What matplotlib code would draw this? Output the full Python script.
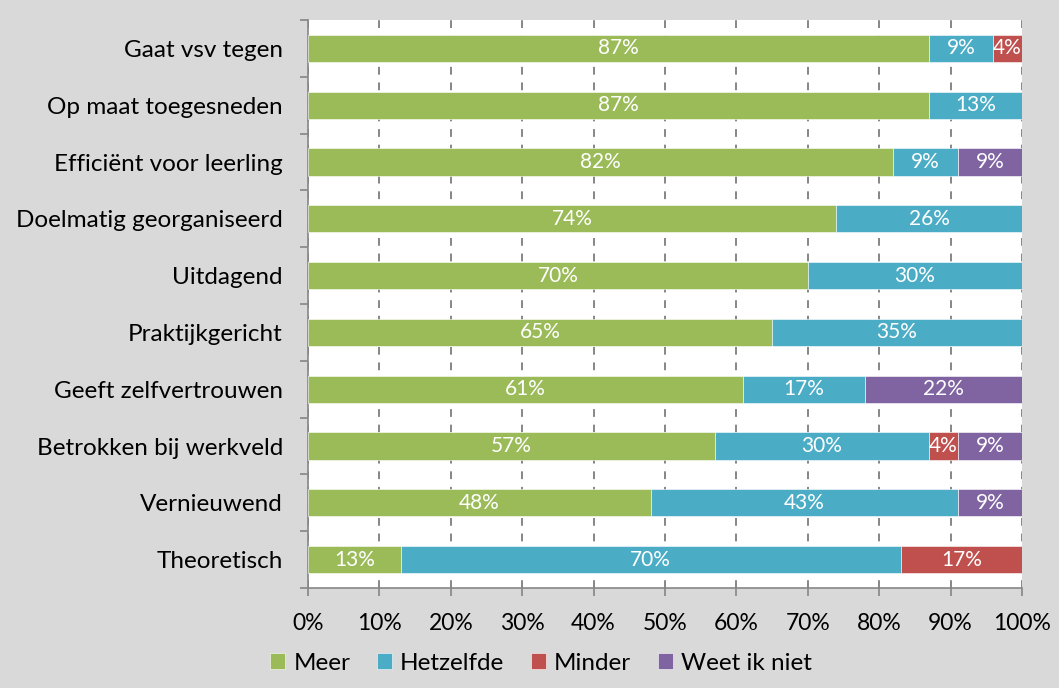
import matplotlib.pyplot as plt
import numpy as np
import matplotlib as mpl

plt.rcParams["font.family"] = ["Lato", "DejaVu Sans"]

# -----------------------------
# Data (percentages, top to bottom)
# -----------------------------
categories = [
    "Gaat vsv tegen",
    "Op maat toegesneden",
    "Efficiënt voor leerling",
    "Doelmatig georganiseerd",
    "Uitdagend",
    "Praktijkgericht",
    "Geeft zelfvertrouwen",
    "Betrokken bij werkveld",
    "Vernieuwend",
    "Theoretisch",
]
meer = [87, 87, 82, 74, 70, 65, 61, 57, 48, 13]
hetzelfde = [9, 13, 9, 26, 30, 35, 17, 30, 43, 70]
minder = [4, 0, 0, 0, 0, 0, 0, 4, 0, 17]
weet_niet = [0, 0, 9, 0, 0, 0, 22, 9, 9, 0]

series_names = ["Meer", "Hetzelfde", "Minder", "Weet ik niet"]
series_colors = ["#9BBB59", "#4BACC6", "#C0504D", "#8064A2"]
x_ticks = np.arange(0, 101, 10)

# -----------------------------
# Figure setup
# -----------------------------
fig = plt.figure(figsize=(10.59, 6.88), dpi=100, facecolor="#d9d9d9")
ax = fig.add_axes([0.2908, 0.1453, 0.6742, 0.8256])
ax.set_facecolor("white")

y = np.arange(len(categories))
left = np.zeros(len(categories))
for name, vals, col in zip(series_names, [meer, hetzelfde, minder, weet_niet], series_colors):
    vals = np.array(vals, dtype=float)
    bars = ax.barh(y, vals, left=left, height=0.48, color=col, edgecolor="white",
                   linewidth=0.4, label=name, zorder=3)
    for b, v in zip(bars, vals):
        if v > 0:
            ax.text(b.get_x() + b.get_width() / 2, b.get_y() + b.get_height() / 2,
                    f"{int(v)}%", ha="center", va="center", color="white",
                    fontsize=15, zorder=4)
    left += vals

# -----------------------------
# Axes, ticks, grid
# -----------------------------
ax.set_xlim(0, 100)
ax.set_ylim(len(categories) - 0.5, -0.5)

ax.set_xticks(x_ticks)
ax.set_xticklabels([f"{t}%" for t in x_ticks])
ax.xaxis.grid(True, color="#868686", linestyle=(0, (4, 4)), linewidth=1.4, zorder=1)
ax.set_axisbelow(True)

ax.set_yticks(y)
ax.set_yticklabels(categories)
ax.set_yticks(np.arange(-0.5, len(categories), 1.0), minor=True)
ax.tick_params(axis="y", which="major", length=0, pad=18, labelsize=17.5, colors="black")
ax.tick_params(axis="y", which="minor", length=6, width=1.2, color="#868686")
ax.tick_params(axis="x", which="major", length=6, width=1.2, color="#868686",
               labelsize=16.5, labelcolor="black", pad=12)

for side in ["top", "right"]:
    ax.spines[side].set_visible(False)
for side in ["left", "bottom"]:
    ax.spines[side].set_color("#868686")
    ax.spines[side].set_linewidth(1.2)

# Legend
handles, labels = ax.get_legend_handles_labels()
fig.legend(handles, labels, loc="center", bbox_to_anchor=(0.511, 0.036), ncol=4,
           frameon=False, fontsize=17.5, handlelength=0.6, handleheight=0.6,
           handletextpad=0.35, columnspacing=1.1)

plt.savefig("out.png", dpi=100, facecolor=fig.get_facecolor())
